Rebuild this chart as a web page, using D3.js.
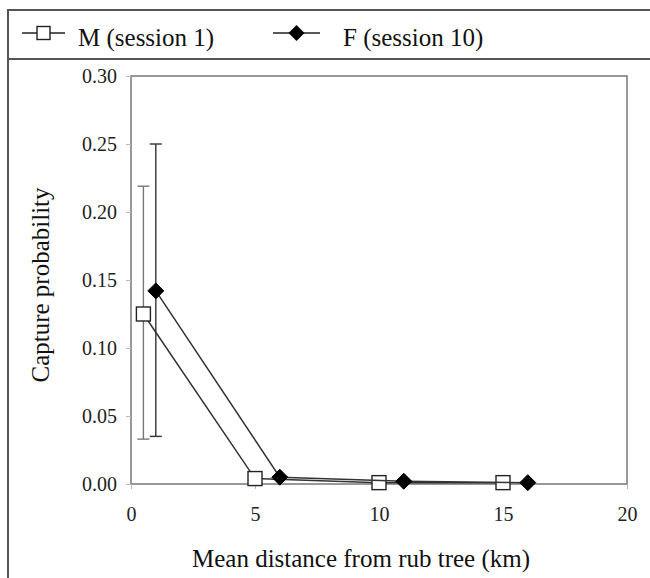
<!DOCTYPE html>
<html>
<head>
<meta charset="utf-8">
<script src="https://cdn.jsdelivr.net/npm/d3@7"></script>
</head>
<body style="margin:0; background:#fff;">
<script>
var w = 650,
  h = 578;

var serif = "Liberation Serif";

// data
var maleX = [0.5, 5, 10, 15];
var maleY = [0.125, 0.004, 0.001, 0.001];
var maleLo = [0.033, null, null, null];
var maleHi = [0.219, null, null, null];

var femaleX = [1, 6, 11, 16];
var femaleY = [0.142, 0.005, 0.002, 0.001];
var femaleLo = [0.035, null, null, null];
var femaleHi = [0.250, null, null, null];

var xTicks = [0, 5, 10, 15, 20];
var yTicks = [0, 0.05, 0.10, 0.15, 0.20, 0.25, 0.30];
var legendNames = ["M (session 1)", "F (session 10)"];

var margin = {left: 131, right: 23, top: 76, bottom: 94};

var svg = d3.select("body").append("svg")
  .attr("width", w)
  .attr("height", h)
  .attr("font-family", serif);

// outer frame + legend separator
svg.append("path")
  .attr("d", "M8," + h + "V10H" + w)
  .attr("fill", "none").attr("stroke", "#555").attr("stroke-width", 2);
svg.append("line")
  .attr("x1", 8).attr("x2", w).attr("y1", 59).attr("y2", 59)
  .attr("stroke", "#555").attr("stroke-width", 2);

var x = d3.scaleLinear().domain([0, 20]).range([margin.left, w - margin.right]);
var y = d3.scaleLinear().domain([0, 0.30]).range([h - margin.bottom, margin.top]);

// plot box
svg.append("rect")
  .attr("x", x(0)).attr("y", y(0.30))
  .attr("width", x(20) - x(0)).attr("height", y(0) - y(0.30))
  .attr("fill", "none").attr("stroke", "#777").attr("stroke-width", 1.5);

var yAxis = svg.append("g")
  .attr("transform", "translate(" + x(0) + ",0)")
  .call(d3.axisLeft(y).tickValues(yTicks).tickFormat(d3.format(".2f")).tickSize(5).tickPadding(9));
var xAxis = svg.append("g")
  .attr("transform", "translate(0," + y(0) + ")")
  .call(d3.axisBottom(x).tickValues(xTicks).tickSize(5).tickPadding(18));

[xAxis, yAxis].forEach(function(a){
  a.attr("font-family", serif).attr("font-size", 20);
  a.select(".domain").remove();
  a.selectAll(".tick line").attr("stroke", "#bbb");
  a.selectAll(".tick text").attr("fill", "#222").style("font-family", "'Liberation Serif'");
});

// axis titles
svg.append("text")
  .attr("x", 361).attr("y", 567)
  .attr("text-anchor", "middle")
  .attr("font-size", 25).attr("fill", "#111")
  .style("font-family", "'Liberation Serif'")
  .text("Mean distance from rub tree (km)");
svg.append("text")
  .attr("transform", "translate(49,285) rotate(-90)")
  .attr("text-anchor", "middle")
  .attr("font-size", 25).attr("fill", "#111")
  .style("font-family", "'Liberation Serif'")
  .text("Capture probability");

var line = d3.line().x(function(d){ return x(d[0]); }).y(function(d){ return y(d[1]); });

function drawSeries(xs, ys, lo, hi, shape, barColor){
  var pts = xs.map(function(v, i){ return [v, ys[i]]; });
  // error bars
  xs.forEach(function(v, i){
    if (lo[i] == null) return;
    var g = svg.append("g").attr("stroke", barColor).attr("stroke-width", 1.4);
    g.append("line").attr("x1", x(v)).attr("x2", x(v)).attr("y1", y(lo[i])).attr("y2", y(hi[i]));
    g.append("line").attr("x1", x(v) - 6).attr("x2", x(v) + 6).attr("y1", y(lo[i])).attr("y2", y(lo[i]));
    g.append("line").attr("x1", x(v) - 6).attr("x2", x(v) + 6).attr("y1", y(hi[i])).attr("y2", y(hi[i]));
  });
  svg.append("path").datum(pts)
    .attr("d", line)
    .attr("fill", "none").attr("stroke", "#333").attr("stroke-width", 1.5);
  pts.forEach(function(p){ marker(x(p[0]), y(p[1]), shape); });
}

function marker(cx, cy, shape){
  if (shape === "square") {
    svg.append("rect")
      .attr("x", cx - 7).attr("y", cy - 7).attr("width", 14).attr("height", 14)
      .attr("fill", "#fff").attr("stroke", "#222").attr("stroke-width", 1.4);
  } else {
    svg.append("path")
      .attr("d", "M" + cx + "," + (cy - 8) + "L" + (cx + 8) + "," + cy + "L" + cx + "," + (cy + 8) + "L" + (cx - 8) + "," + cy + "Z")
      .attr("fill", "#000").attr("stroke", "#000");
  }
}

drawSeries(maleX, maleY, maleLo, maleHi, "square", "#777");
drawSeries(femaleX, femaleY, femaleLo, femaleHi, "diamond", "#333");

// legend
var legend = svg.append("g");
var legX = [22, 273];
var legW = [43, 47];
var legText = [78, 343];
var legY = 33;
legendNames.forEach(function(name, i){
  legend.append("line")
    .attr("x1", legX[i]).attr("x2", legX[i] + legW[i]).attr("y1", legY).attr("y2", legY)
    .attr("stroke", "#222").attr("stroke-width", 1.5);
  var cx = legX[i] + legW[i] / 2;
  if (i === 0) {
    legend.append("rect").attr("x", cx - 6.5).attr("y", legY - 6.5).attr("width", 13).attr("height", 13)
      .attr("fill", "#fff").attr("stroke", "#222").attr("stroke-width", 1.4);
  } else {
    legend.append("path")
      .attr("d", "M" + cx + "," + (legY - 8) + "L" + (cx + 8) + "," + legY + "L" + cx + "," + (legY + 8) + "L" + (cx - 8) + "," + legY + "Z")
      .attr("fill", "#000");
  }
  legend.append("text")
    .attr("x", legText[i]).attr("y", 46)
    .attr("font-size", 25).attr("fill", "#111")
    .style("font-family", "'Liberation Serif'")
    .text(name);
});
</script>
</body>
</html>
